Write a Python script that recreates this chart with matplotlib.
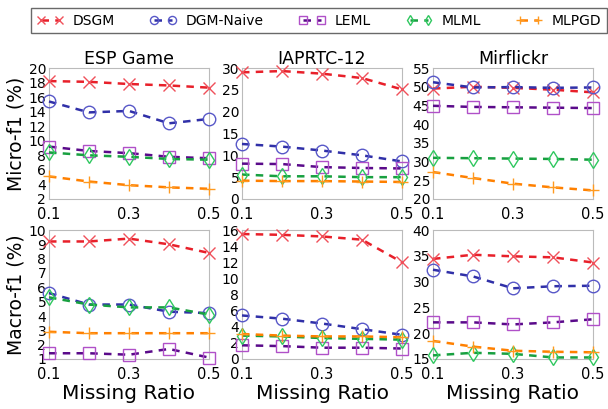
import numpy as np
import matplotlib
matplotlib.use('Agg')
import matplotlib.pyplot as plt

ratios = [0.1, 0.2, 0.3, 0.4, 0.5]
methods = ["DSGM", "DGM-Naive", "LEML", "MLML", "MLPGD"]
datasets = ["ESP Game", "IAPRTC-12", "Mirflickr"]

# Micro-f1 (%)
esp_micro = {
    "DSGM": [18.2, 18.1, 17.8, 17.6, 17.3],
    "DGM-Naive": [15.4, 13.9, 14.1, 12.4, 13.0],
    "LEML": [9.2, 8.6, 8.3, 7.8, 7.6],
    "MLML": [8.4, 8.0, 7.8, 7.5, 7.4],
    "MLPGD": [5.1, 4.4, 3.9, 3.6, 3.4],
}
iap_micro = {
    "DSGM": [29.0, 29.3, 28.7, 27.7, 25.1],
    "DGM-Naive": [12.6, 12.0, 11.1, 10.0, 8.6],
    "LEML": [8.1, 8.0, 7.3, 7.1, 7.0],
    "MLML": [5.6, 5.2, 5.2, 5.0, 5.0],
    "MLPGD": [4.2, 4.1, 4.1, 4.0, 3.9],
}
mir_micro = {
    "DSGM": [49.5, 50.0, 49.7, 49.2, 48.5],
    "DGM-Naive": [51.2, 49.8, 49.9, 49.7, 49.8],
    "LEML": [44.9, 44.6, 44.5, 44.4, 44.3],
    "MLML": [31.0, 30.9, 30.8, 30.7, 30.5],
    "MLPGD": [27.2, 25.6, 24.1, 23.1, 22.3],
}
# Macro-f1 (%)
esp_macro = {
    "DSGM": [9.2, 9.2, 9.4, 9.0, 8.4],
    "DGM-Naive": [5.6, 4.8, 4.8, 4.3, 4.2],
    "LEML": [1.4, 1.4, 1.3, 1.7, 1.1],
    "MLML": [5.3, 4.8, 4.6, 4.6, 4.1],
    "MLPGD": [2.9, 2.8, 2.8, 2.8, 2.8],
}
iap_macro = {
    "DSGM": [15.5, 15.4, 15.2, 14.8, 12.0],
    "DGM-Naive": [5.4, 5.0, 4.4, 3.7, 3.0],
    "LEML": [1.7, 1.6, 1.4, 1.4, 1.3],
    "MLML": [2.9, 2.8, 2.6, 2.5, 2.4],
    "MLPGD": [3.1, 2.9, 2.8, 2.8, 2.7],
}
mir_macro = {
    "DSGM": [34.4, 35.2, 34.9, 34.7, 33.7],
    "DGM-Naive": [32.3, 31.0, 28.7, 29.1, 29.2],
    "LEML": [22.1, 22.1, 21.7, 22.1, 22.7],
    "MLML": [15.7, 16.2, 16.0, 15.3, 15.3],
    "MLPGD": [18.5, 17.4, 16.6, 16.4, 16.3],
}

# (line colour, marker colour, marker)
styles = {
    "DSGM": ('#e8202a', '#f0505a', 'x'),
    "DGM-Naive": ('#3030a8', '#5858c8', 'o'),
    "LEML": ('#5a0a8a', '#b050c8', 's'),
    "MLML": ('#18a040', '#30c860', 'd'),
    "MLPGD": ('#ff8000', '#ff9a20', '+'),
}

micro = [esp_micro, iap_micro, mir_micro]
macro = [esp_macro, iap_macro, mir_macro]
ylims_micro = [(2, 20, 2), (0, 30, 5), (20, 55, 5)]
ylims_macro = [(1, 10, 1), (0, 16, 2), (15, 40, 5)]

fig = plt.figure(figsize=(6.08, 4.09), dpi=100)
W, H = 608.0, 409.0
lefts = [49, 242, 433]
width = 160

def draw(ax, data, lims):
    for m in methods:
        lc, mc, mk = styles[m]
        ax.plot(ratios, data[m], '--', color=lc, lw=1.8, dashes=(3, 2.5),
                marker=mk, markersize=9 if mk in 'ox' else 8,
                markerfacecolor='none', markeredgecolor=mc,
                markeredgewidth=1.0, label=m, clip_on=False, zorder=3)
    lo, hi, st = lims
    ax.set_ylim(lo, hi)
    ax.set_yticks(np.arange(lo, hi + 0.01, st))
    ax.set_xlim(0.1, 0.5)
    ax.set_xticks([0.1, 0.3, 0.5])
    ax.set_xticklabels(["0.1", "0.3", "0.5"])
    for s in ax.spines.values():
        s.set_color('#bbbbbb')
    ax.tick_params(axis='y', labelsize=10, length=0, pad=2)
    ax.tick_params(axis='x', labelsize=10.5, length=0, pad=6)

axes_top = []
for i in range(3):
    ax = fig.add_axes([lefts[i] / W, (H - 199) / H, width / W, 131 / H])
    draw(ax, micro[i], ylims_micro[i])
    ax.set_title(datasets[i], fontsize=12.5, pad=3)
    axes_top.append(ax)
axes_top[0].set_ylabel("Micro-f1 (%)", fontsize=13.5, labelpad=2)

for i in range(3):
    ax = fig.add_axes([lefts[i] / W, (H - 359) / H, width / W, 129 / H])
    draw(ax, macro[i], ylims_macro[i])
    ax.set_xlabel("Missing Ratio", fontsize=14.5, labelpad=1)
    if i == 0:
        ax.set_ylabel("Macro-f1 (%)", fontsize=13.5, labelpad=2)

handles, labels = axes_top[0].get_legend_handles_labels()
leg = fig.legend(handles, labels, loc='upper left', bbox_to_anchor=(24 / W, 0.997),
                 ncol=5, fontsize=10, frameon=True, fancybox=False,
                 numpoints=2, handlelength=1.9, columnspacing=2.5,
                 handletextpad=0.7, borderpad=0.4, markerscale=0.65)
leg.get_frame().set_edgecolor('#444444')
leg.get_frame().set_linewidth(1.0)

plt.savefig('out.png', dpi=100)
